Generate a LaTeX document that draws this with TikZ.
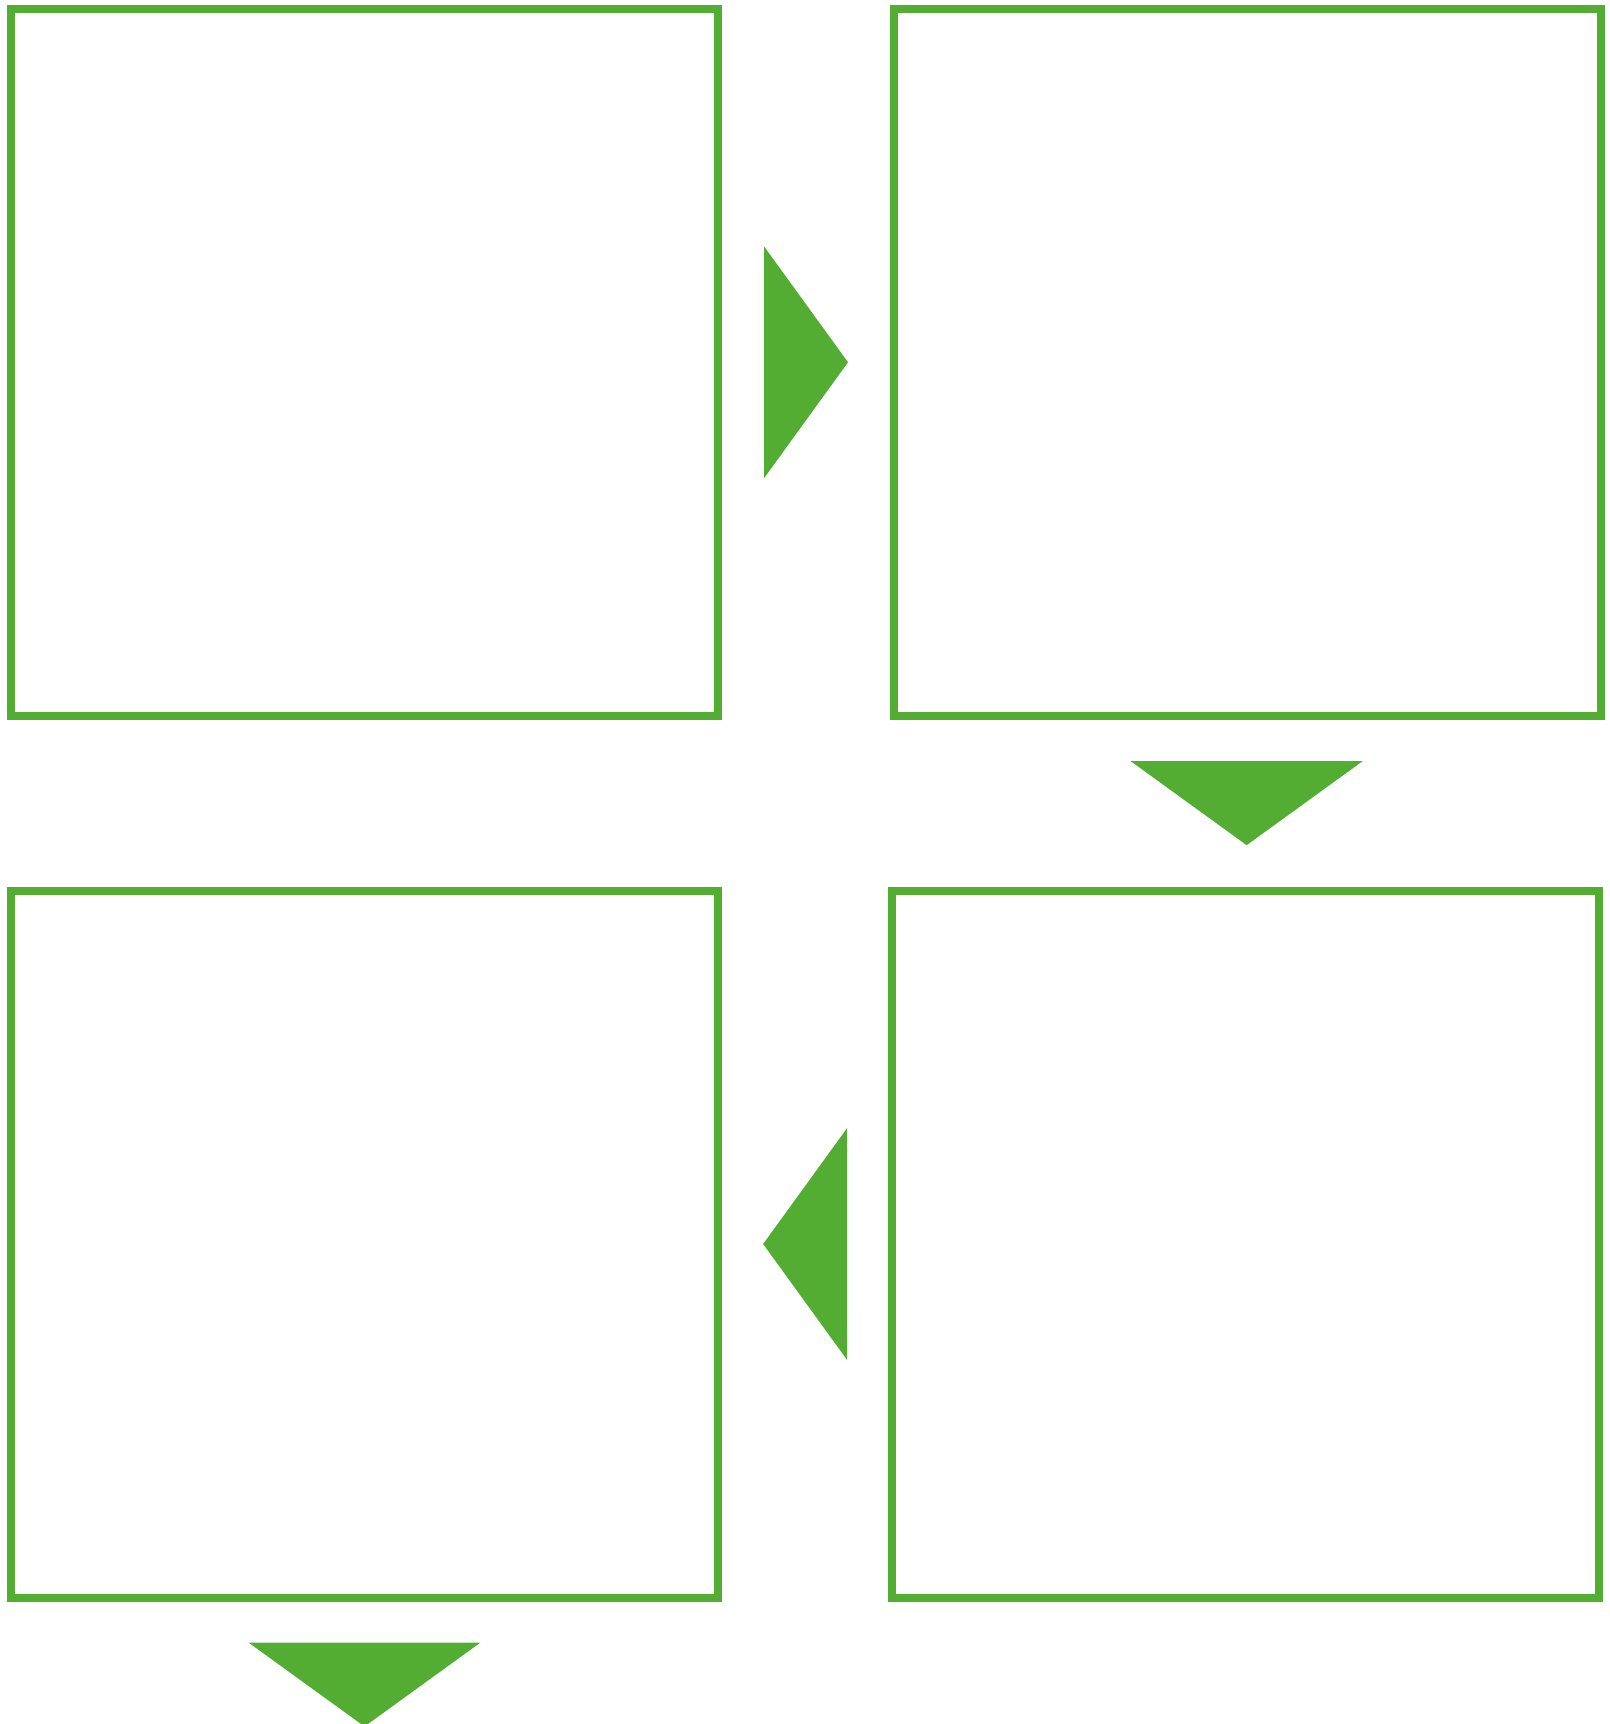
\documentclass[tikz,border=0pt]{standalone}
\usepackage{tikz}
\usetikzlibrary{calc,positioning}
\definecolor{flowgreen}{RGB}{82,173,50}

\begin{document}
\begin{tikzpicture}[
    x=1pt, y=-1pt,
    stagebox/.style={draw=flowgreen, line width=8pt, inner sep=0pt, minimum width=707pt, minimum height=707pt},
    flowtip/.style={fill=flowgreen}
]
  \useasboundingbox (0,0) rectangle (1609,1724);

  \node[stagebox] (topleft) at (364.5,362.3) {};
  \node[stagebox] (topright) at (1247.5,362.3) {};
  \node[stagebox] (botright) at (1245.8,1244) {};
  \node[stagebox] (botleft) at (364.5,1244) {};

  \coordinate (gapa) at ($(topleft.east)!0.5!(topright.west)$);
  \coordinate (gapb) at ($(topright.south)!0.5!(botright.north)$);
  \coordinate (gapc) at ($(botright.west)!0.5!(botleft.east)$);
  \coordinate (gapd) at ($(botleft.south)+(0,83)$);

  % flow: right, down, left, down
  \fill[flowtip] ($(gapa)+(-42,-116)$) -- ($(gapa)+(42,0)$) -- ($(gapa)+(-42,116)$) -- cycle;
  \fill[flowtip] ($(gapb)+(-116,-42)$) -- ($(gapb)+(0,42)$) -- ($(gapb)+(116,-42)$) -- cycle;
  \fill[flowtip] ($(gapc)+(42,-116)$) -- ($(gapc)+(-42,0)$) -- ($(gapc)+(42,116)$) -- cycle;
  \fill[flowtip] ($(gapd)+(-116,-42)$) -- ($(gapd)+(0,42)$) -- ($(gapd)+(116,-42)$) -- cycle;
\end{tikzpicture}
\end{document}
